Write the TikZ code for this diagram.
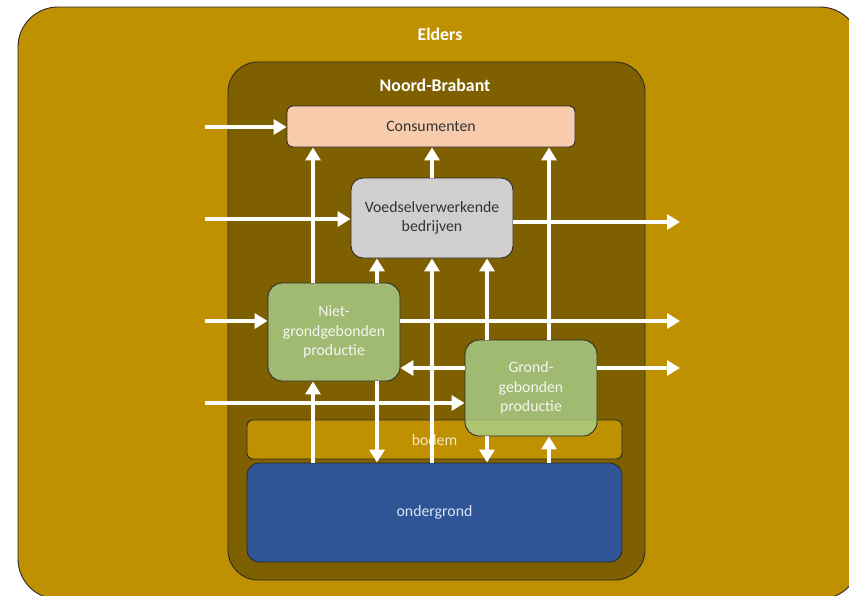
\documentclass[tikz,border=0pt]{standalone}
\usepackage{fontspec}
\setmainfont{Carlito}
\usetikzlibrary{arrows.meta}
\definecolor{gold}{HTML}{BF9000}
\definecolor{brown}{HTML}{7F6000}
\definecolor{peach}{HTML}{F8CBAD}
\definecolor{lgray}{HTML}{D0CECE}
\definecolor{lgreen}{HTML}{A9D18E}
\definecolor{navy}{HTML}{2F5597}
\definecolor{edge}{HTML}{2B2B2B}
\definecolor{dtext}{HTML}{333333}
\definecolor{btext}{HTML}{F5E9C4}
\definecolor{otext}{HTML}{DAE3F3}
\definecolor{gtext}{HTML}{F5F5F0}
\tikzset{
  box/.style={draw=edge, line width=0.9pt, inner sep=0pt, align=center,
    font=\fontsize{15.8}{19.3}\selectfont},
  title/.style={text=white, font=\fontsize{17.8}{20}\selectfont\bfseries},
  arr/.style={draw=white, line width=4pt, -{Triangle[length=13pt,width=15pt]}},
}
\begin{document}
\begin{tikzpicture}[x=1pt,y=-1pt]
\useasboundingbox (0,0) rectangle (849,595);
% containers
\node[box, fill=gold, rounded corners=40pt, minimum width=842pt, minimum height=592pt] (elders) at (439,303) {};
\node[title] (elderst) at (440,34) {Elders};
\node[box, fill=brown, rounded corners=30pt, minimum width=417pt, minimum height=518pt] (nb) at (436.5,321) {};
\node[title] (nbt) at (435,85) {Noord-Brabant};
% boxes
\node[box, fill=peach, text=dtext, rounded corners=6pt, minimum width=288pt, minimum height=41pt] (cons) at (431,126.5) {Consumenten};
\node[box, fill=lgray, text=dtext, rounded corners=12pt, minimum width=162pt, minimum height=80pt] (voed) at (432,218) {Voedselverwerkende\\bedrijven};
\node[box, fill=gold, rounded corners=6pt, minimum width=375pt, minimum height=39pt] (bodem) at (434.5,439.5) {};
\node[box, fill=navy, text=otext, rounded corners=12pt, minimum width=375pt, minimum height=99pt] (onder) at (434.5,512.5) {ondergrond};
\node[box, fill=lgreen, fill opacity=0.8, text opacity=1, text=gtext, rounded corners=14pt, minimum width=132pt, minimum height=98pt] (niet) at (334,332) {Niet-\\grondgebonden\\productie};
% column / row coordinates
\coordinate (c1) at (313,0);
\coordinate (c2) at (377,0);
\coordinate (c3) at (432,0);
\coordinate (c4) at (487,0);
\coordinate (c5) at (549,0);
\coordinate (inA) at (205,127);
\coordinate (inB) at (205,219);
\coordinate (inC) at (205,321);
\coordinate (inD) at (205,403);
\coordinate (outA) at (680,222);
\coordinate (outB) at (680,321);
\coordinate (outC) at (680,368);
\coordinate (r12) at (0,368);
\node[text=btext, font=\fontsize{15.8}{19}\selectfont] (bodemt) at (434.5,440) {bodem};
\node[box, fill=lgreen, fill opacity=0.8, text opacity=1, text=gtext, rounded corners=14pt, minimum width=132pt, minimum height=96pt] (grond) at (531,388) {Grond-\\gebonden\\productie};
% arrows
\draw[arr] (inA) -- (inA -| cons.west);
\draw[arr] (inB) -- (inB -| voed.west);
\draw[arr] (inC) -- (inC -| niet.west);
\draw[arr] (inD) -- (inD -| grond.west);
\draw[arr] (c1 |- niet.north) -- (c1 |- cons.south);
\draw[arr] (c3 |- voed.north) -- (c3 |- cons.south);
\draw[arr] (c5 |- grond.north) -- (c5 |- cons.south);
\draw[arr] (c2 |- niet.north) -- (c2 |- voed.south);
\draw[arr] (c3 |- onder.north) -- (c3 |- voed.south);
\draw[arr] (c4 |- grond.north) -- (c4 |- voed.south);
\draw[arr] (outA -| voed.east) -- (outA);
\draw[arr] (outB -| niet.east) -- (outB);
\draw[arr] (r12 -| grond.west) -- (r12 -| niet.east);
\draw[arr] (outC -| grond.east) -- (outC);
\draw[arr] (c1 |- onder.north) -- (c1 |- niet.south);
\draw[arr] (c2 |- niet.south) -- (c2 |- onder.north);
\draw[arr] (c4 |- grond.south) -- (c4 |- onder.north);
\draw[arr] (c5 |- onder.north) -- (c5 |- grond.south);
\end{tikzpicture}
\end{document}
